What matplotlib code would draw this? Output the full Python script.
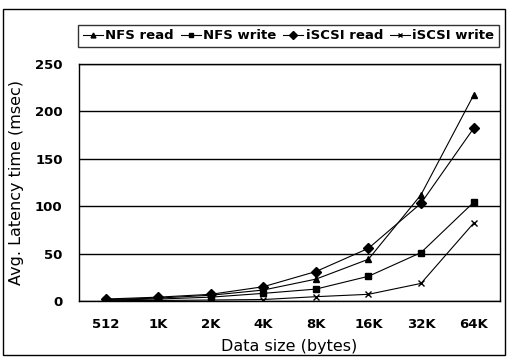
import numpy as np
import matplotlib.pyplot as plt
from matplotlib.patches import Rectangle

sizes = ["512", "1K", "2K", "4K", "8K", "16K", "32K", "64K"]
nfs_read = [1.5, 3, 6, 11.5, 23, 44, 112, 217]
nfs_write = [1, 2, 4, 8, 12.5, 26, 51, 104]
iscsi_read = [2, 4, 7, 15, 31, 55.5, 103, 182]
iscsi_write = [0.3, 0.5, 1, 1.5, 4.5, 7, 18.5, 82]

fig = plt.figure(figsize=(5.08, 3.57), dpi=100)
ax = fig.add_axes([0.156, 0.157, 0.828, 0.664])

x = np.arange(len(sizes))
ax.plot(x, nfs_read, color="black", lw=0.8, marker="^", ms=5, label="NFS read")
ax.plot(x, nfs_write, color="black", lw=0.8, marker="s", ms=4, label="NFS write")
ax.plot(x, iscsi_read, color="black", lw=0.8, marker="D", ms=5.5, label="iSCSI read")
ax.plot(x, iscsi_write, color="black", lw=0.8, marker="x", ms=5, mew=1, label="iSCSI write")

ax.set_xlim(-0.5, len(sizes) - 0.5)
ax.set_ylim(0, 250)
ax.set_yticks(range(0, 251, 50))
ax.set_xticks(x)
ax.set_xticklabels(sizes)
ax.grid(axis="y", color="black", lw=1)
ax.set_axisbelow(True)
ax.tick_params(axis="y", length=0, labelsize=9.5, pad=12)
ax.tick_params(axis="x", length=0, labelsize=9.5, pad=12)
for lab in ax.get_xticklabels() + ax.get_yticklabels():
    lab.set_fontweight("bold")
for s in ax.spines.values():
    s.set_linewidth(1)

ax.set_xlabel("Data size (bytes)", fontsize=11.5, labelpad=6)
ax.set_ylabel("Avg. Latency time (msec)", fontsize=11.5, labelpad=8)

leg = fig.legend(loc="center", ncol=4, bbox_to_anchor=(0.154, 0.862, 0.828, 0.075),
                 mode="expand", fancybox=False, edgecolor="black",
                 prop={"weight": "bold", "size": 9.5}, handlelength=1.5,
                 handletextpad=0.2, columnspacing=0.5, borderaxespad=0,
                 borderpad=0.35, markerscale=0.7)
leg.get_frame().set_linewidth(1)

fig.patches.append(Rectangle((0.006, 0.006), 0.988, 0.968, transform=fig.transFigure,
                             fill=False, edgecolor="black", lw=1))

fig.savefig("out.png", dpi=100)
